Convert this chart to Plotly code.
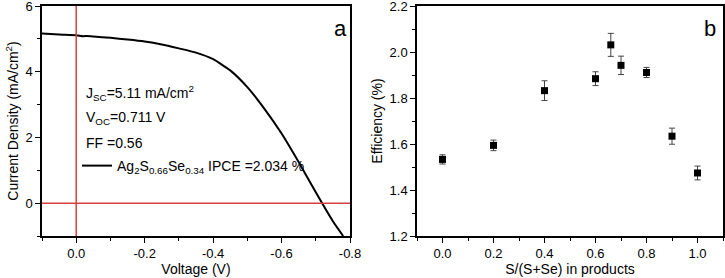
import plotly.graph_objects as go

# Panel a: J-V curve
voltage = [0.1, 0.05, 0.0, -0.02, -0.03, -0.05, -0.1, -0.15, -0.2, -0.25, -0.3, -0.35,
           -0.4, -0.45, -0.5, -0.55, -0.6, -0.65, -0.7, -0.75, -0.78]
current = [5.16, 5.13, 5.11, 5.08, 5.09, 5.07, 5.03, 4.98, 4.92, 4.83, 4.71, 4.58,
           4.38, 4.04, 3.53, 2.87, 2.12, 1.25, 0.33, -0.55, -1.0]

# Panel b: efficiency vs composition
ratio = [0.0, 0.2, 0.4, 0.6, 0.66, 0.7, 0.8, 0.9, 1.0]
efficiency = [1.533, 1.594, 1.832, 1.884, 2.031, 1.942, 1.911, 1.634, 1.474]
eff_err = [0.02, 0.023, 0.043, 0.03, 0.05, 0.04, 0.022, 0.035, 0.03]

FONT = "Liberation Sans, Arial, sans-serif"
RED = "#d6403f"

W, H = 725, 278
T, B = 6, 42
PH = H - T - B


def px_x(x):
    return x / W


def px_y(y):
    return (H - B - y) / PH


fig = go.Figure()

fig.add_trace(go.Scatter(
    x=voltage, y=current, mode="lines",
    line=dict(color="black", width=2, shape="spline", smoothing=0.5),
    name="Ag<sub>2</sub>S<sub>0.66</sub>Se<sub>0.34</sub> IPCE =2.034 %",
    xaxis="x", yaxis="y", showlegend=True,
))

fig.add_trace(go.Scatter(
    x=ratio, y=efficiency, mode="markers",
    marker=dict(symbol="square", size=7, color="black"),
    error_y=dict(type="data", array=eff_err, visible=True, color="#444444",
                 thickness=1, width=3),
    xaxis="x2", yaxis="y2", showlegend=False,
))

axis_common = dict(
    showline=True, linecolor="black", linewidth=1.5, mirror=True,
    ticks="outside", ticklen=5, tickwidth=1.2, tickcolor="black",
    showgrid=False, zeroline=False, automargin=False, ticklabeloverflow="allow",
    tickfont=dict(family=FONT, size=13, color="black"),
    title_font=dict(family=FONT, size=14, color="black"),
)

fig.update_layout(
    width=W, height=H,
    margin=dict(l=0, r=0, t=T, b=B),
    paper_bgcolor="white", plot_bgcolor="white",
    font=dict(family=FONT, color="black"),
    xaxis=dict(domain=[42/W, 350/W], range=[0.1, -0.8], tickvals=[0.0, -0.2, -0.4, -0.6, -0.8],
               ticktext=["0.0", "-0.2", "-0.4", "-0.6", "-0.8"],
               minor=dict(dtick=0.1, ticks="outside", ticklen=3, tickcolor="black"),
               title=dict(text="Voltage (V)", standoff=4), anchor="y", **axis_common),
    yaxis=dict(domain=[0, 1], range=[-1, 6], tickvals=[0, 2, 4, 6],
               minor=dict(dtick=1, ticks="outside", ticklen=3, tickcolor="black"),
               title=dict(text="Current Density (mA/cm<sup>2</sup>)", standoff=4), anchor="x",
               **axis_common),
    xaxis2=dict(domain=[417/W, 723/W], range=[-0.1, 1.1], tickvals=[0, 0.2, 0.4, 0.6, 0.8, 1.0],
                tickformat=".1f",
                minor=dict(dtick=0.1, ticks="outside", ticklen=3, tickcolor="black"),
                title=dict(text="S/(S+Se) in products", standoff=4), anchor="y2", **axis_common),
    yaxis2=dict(domain=[0, 1], range=[1.2, 2.2], dtick=0.2, tickformat=".1f",
                minor=dict(dtick=0.1, ticks="outside", ticklen=3, tickcolor="black"),
                title=dict(text="Efficiency (%)", standoff=4), anchor="x2", **axis_common),
    legend=dict(x=px_x(77), y=px_y(166), xanchor="left", yanchor="middle",
                bgcolor="rgba(0,0,0,0)",
                font=dict(family=FONT, size=14, color="black"), itemwidth=30,
                tracegroupgap=0),
    shapes=[
        dict(type="line", xref="x", yref="y domain", x0=0, x1=0, y0=0, y1=1,
             line=dict(color=RED, width=1.5)),
        dict(type="line", xref="x domain", yref="y", x0=0, x1=1, y0=0, y1=0,
             line=dict(color=RED, width=1.5)),
    ],
)

ann_font = dict(family=FONT, size=14, color="black")
for txt, x, y in [
    ("J<sub>SC</sub>=5.11 mA/cm<sup>2</sup>", 84, 93),
    ("V<sub>OC</sub>=0.711 V", 84, 118),
    ("FF =0.56", 84, 143),
]:
    fig.add_annotation(text=txt, x=px_x(x), y=px_y(y), xref="paper", yref="paper",
                       showarrow=False, xanchor="left", yanchor="middle", font=ann_font)

for txt, x, y in [("a", 340, 29), ("b", 710, 29)]:
    fig.add_annotation(text=txt, x=px_x(x), y=px_y(y), xref="paper", yref="paper",
                       showarrow=False, xanchor="center", yanchor="middle",
                       font=dict(family=FONT, size=22, color="black"))

fig.write_html(
    "out.html",
    config={"displayModeBar": False},
    post_script="document.body.style.margin='0';document.body.style.padding='0';",
)
